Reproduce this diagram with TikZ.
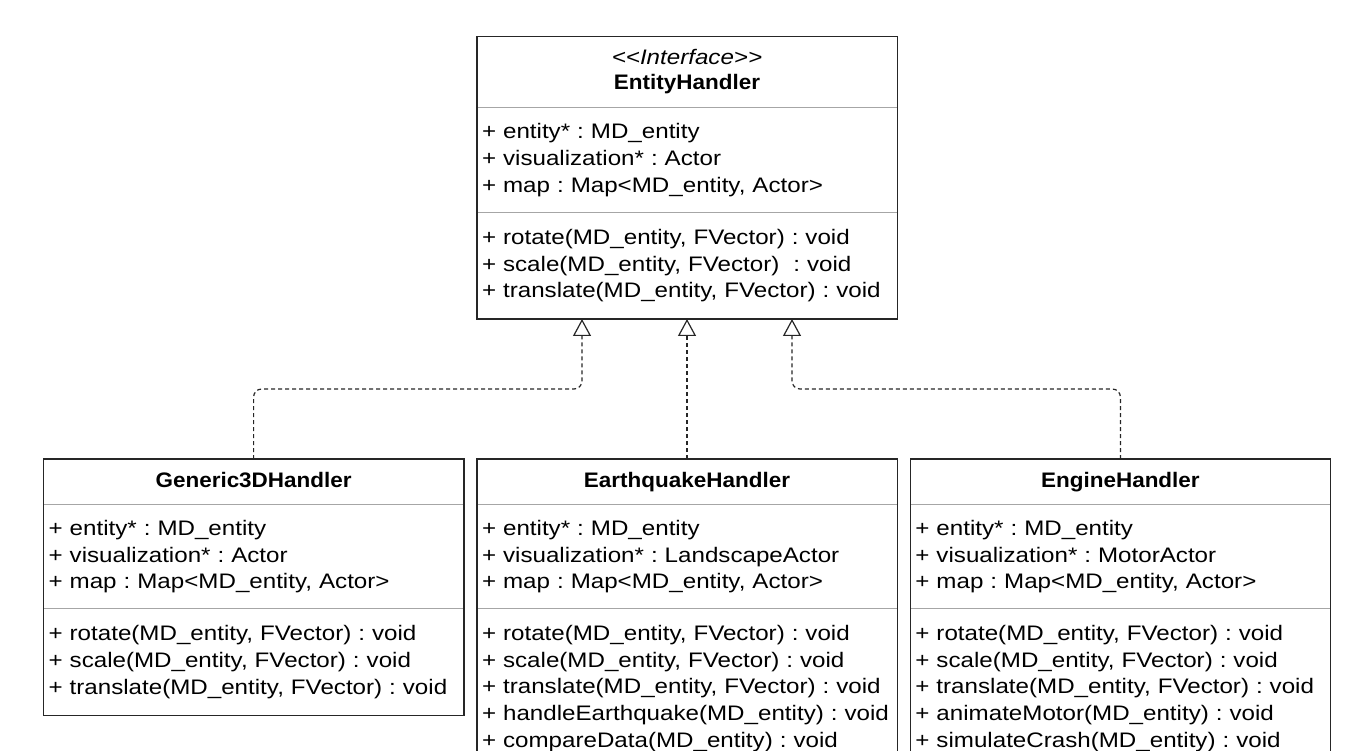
\documentclass[tikz,border=0pt]{standalone}
\usepackage{fontspec}
\setmainfont{Liberation Sans}[FakeStretch=1.15, BoldFeatures={FakeStretch=1.07}]
\usetikzlibrary{positioning,arrows.meta}
\frenchspacing

\begin{document}
\begin{tikzpicture}[x=1pt, y=1pt, node distance=13pt,
    part/.style={rectangle, inner xsep=5pt, inner ysep=0pt, text width=410pt,
                 align=left, font=\fontsize{21}{26.7}\selectfont},
    title/.style={part, align=center},
    frame/.style={draw=black!85, line width=1.4pt},
    sep/.style={draw=black!35, line width=1pt},
    realize/.style={draw=black!85, line width=1.2pt, dash pattern=on 4pt off 3pt,
                    rounded corners=8pt, -{Triangle[open, width=18pt, length=17pt]}}]
    \useasboundingbox (0,0) rectangle (1350,-751);

    % interface
    \node (entity) [title, minimum height=70pt] at (687,-72)
        {{\itshape <\kern0pt<Interface>\kern0pt>}\strut\\[-2pt]\textbf{EntityHandler}\strut};
    \node (entity-attr) [part, minimum height=105pt, below=0pt of entity]
        {+ entity* : MD\_entity\\+ visualization* : Actor\\+ map : Map<MD\_entity, Actor>};
    \node (entity-ops) [part, minimum height=106pt, below=0pt of entity-attr]
        {+ rotate(MD\_entity, FVector) : void\\+ scale(MD\_entity, FVector)~ : void\\+ translate(MD\_entity, FVector) : void};

    % handlers
    \node (quake) [title, minimum height=45pt, below=140pt of entity-ops] {\textbf{EarthquakeHandler}\strut};
    \node (quake-attr) [part, minimum height=104pt, below=0pt of quake]
        {+ entity* : MD\_entity\\+ visualization* : LandscapeActor\\+ map : Map<MD\_entity, Actor>};
    \node (quake-ops) [part, minimum height=159pt, below=0pt of quake-attr]
        {+ rotate(MD\_entity, FVector) : void\\+ scale(MD\_entity, FVector) : void\\+ translate(MD\_entity, FVector) : void\\+ handleEarthquake(MD\_entity) : void\\+ compareData(MD\_entity) : void};

    \node (generic) [title, minimum height=45pt, left=of quake] {\textbf{Generic3DHandler}\strut};
    \node (generic-attr) [part, minimum height=104pt, below=0pt of generic]
        {+ entity* : MD\_entity\\+ visualization* : Actor\\+ map : Map<MD\_entity, Actor>};
    \node (generic-ops) [part, minimum height=106pt, below=0pt of generic-attr]
        {+ rotate(MD\_entity, FVector) : void\\+ scale(MD\_entity, FVector) : void\\+ translate(MD\_entity, FVector) : void};

    \node (engine) [title, minimum height=45pt, right=of quake] {\textbf{EngineHandler}\strut};
    \node (engine-attr) [part, minimum height=104pt, below=0pt of engine]
        {+ entity* : MD\_entity\\+ visualization* : MotorActor\\+ map : Map<MD\_entity, Actor>};
    \node (engine-ops) [part, minimum height=159pt, below=0pt of engine-attr]
        {+ rotate(MD\_entity, FVector) : void\\+ scale(MD\_entity, FVector) : void\\+ translate(MD\_entity, FVector) : void\\+ animateMotor(MD\_entity) : void\\+ simulateCrash(MD\_entity) : void};

    % frames and compartment lines
    \foreach \c in {entity, generic, quake, engine} {
        \draw[sep] (\c-attr.north west) -- (\c-attr.north east);
        \draw[sep] (\c-ops.north west) -- (\c-ops.north east);
        \draw[frame] (\c.north west) rectangle (\c-ops.south east);
    }

    % realizations
    \draw[realize] (generic.north) -- ++(0,70) -| ([xshift=-105pt]entity-ops.south);
    \draw[realize] (quake.north) -- (entity-ops.south);
    \draw[realize] (engine.north) -- ++(0,70) -| ([xshift=105pt]entity-ops.south);
\end{tikzpicture}
\end{document}
